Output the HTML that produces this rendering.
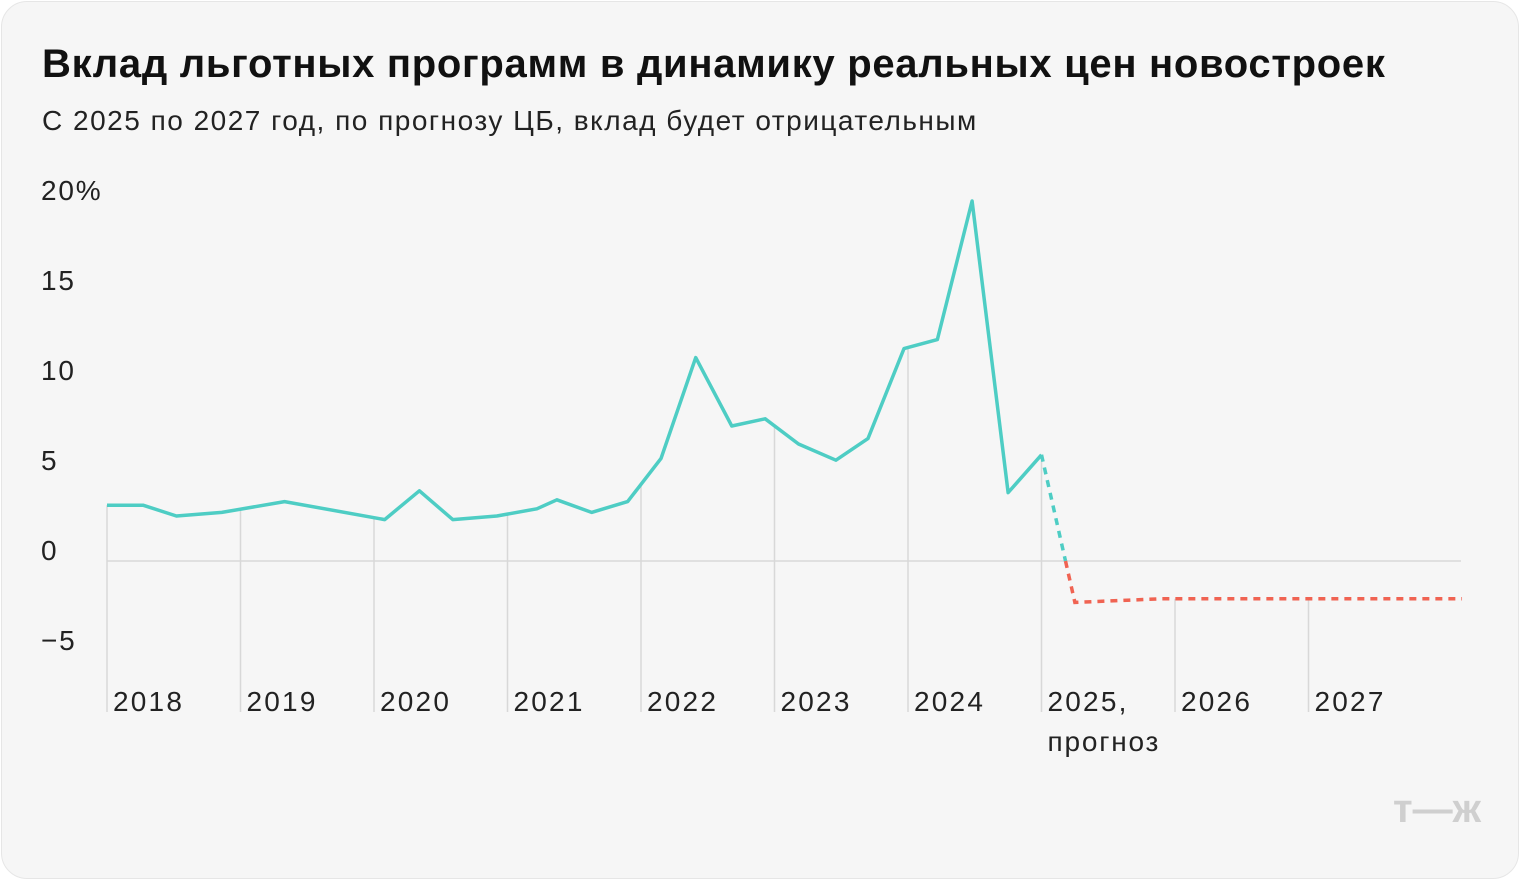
<!DOCTYPE html>
<html><head><meta charset="utf-8"><style>
html,body{margin:0;padding:0;background:#fff;}
.card{position:absolute;left:1px;top:1px;width:1516px;height:876px;background:#f6f6f6;border:1px solid #e6e6e6;border-radius:26px;overflow:hidden;font-family:"Liberation Sans",sans-serif;}
.title{position:absolute;left:40px;top:40px;font-size:40px;font-weight:bold;color:#111;letter-spacing:0.7px;}
.sub{position:absolute;left:40px;top:103px;font-size:28px;color:#222;letter-spacing:1.5px;}
svg{position:absolute;left:0;top:0;}
</style></head><body>
<div class="card">
<div class="title">Вклад льготных программ в динамику реальных цен новостроек</div>
<div class="sub">С 2025 по 2027 год, по прогнозу ЦБ, вклад будет отрицательным</div>
<svg id="chart" width="1518" height="878"></svg>
</div>
<script>
const yTicks=[20,15,10,5,0,-5];
const yTickLabels=["20%","15","10","5","0","−5"];
const years=[2018,2019,2020,2021,2022,2023,2024,2025,2026,2027];
const yearLabels=["2018","2019","2020","2021","2022","2023","2024","2025,","2026","2027"];
const histDates=[2018.0,2018.27,2018.52,2018.86,2019.33,2020.08,2020.34,2020.59,2020.92,2021.22,2021.37,2021.63,2021.9,2022.15,2022.41,2022.68,2022.93,2023.18,2023.46,2023.7,2023.97,2024.22,2024.48,2024.75,2025.0];
const histValues=[3.1,3.1,2.5,2.7,3.3,2.3,3.9,2.3,2.5,2.9,3.4,2.7,3.3,5.7,11.3,7.5,7.9,6.5,5.6,6.8,11.8,12.3,20.0,3.8,5.9];
const fcDates=[2025.0,2025.25,2025.9,2028.15];
const fcValues=[5.9,-2.3,-2.1,-2.1];

const svg=document.getElementById('chart');
const NS='http://www.w3.org/2000/svg';
const X=t=>105+(t-2018)*133.5;
const Y=v=>559-v*18;
const FONT='Liberation Sans, sans-serif';
function mk(tag,attrs){const e=document.createElementNS(NS,tag);for(const k in attrs)e.setAttribute(k,attrs[k]);svg.appendChild(e);return e;}
function valAt(t){
  const ds=histDates.concat(fcDates.slice(1)),vs=histValues.concat(fcValues.slice(1));
  for(let i=0;i<ds.length-1;i++) if(t>=ds[i]&&t<=ds[i+1]) return vs[i]+(vs[i+1]-vs[i])*(t-ds[i])/(ds[i+1]-ds[i]);
  return vs[vs.length-1];
}
const z=mk('line',{x1:X(2018),x2:1459,y1:Y(0),y2:Y(0),stroke:'#d8d8d8','stroke-width':1.5});


years.forEach((yr,i)=>{
  const x=X(yr);
  const v=valAt(yr);
  const g=mk('line',{x1:x,x2:x,y1:Y(v),y2:710,stroke:'#d8d8d8','stroke-width':1.5});
  
  
  const t=mk('text',{x:x+6,y:709,'font-size':28,'letter-spacing':2.2,fill:'#222','font-family':FONT});
  t.textContent=yearLabels[i];
  
  
});
const pt=mk('text',{x:X(2025)+6,y:749,'font-size':28,'letter-spacing':1.8,fill:'#222','font-family':FONT});
pt.textContent='прогноз';


yTicks.forEach((v,i)=>{
  const t=mk('text',{x:39,y:Y(v)-1,'font-size':28,'letter-spacing':1.8,fill:'#222','font-family':FONT});
  t.textContent=yTickLabels[i];
  
  
});
const hp=mk('polyline',{points:histDates.map((d,i)=>X(d)+','+Y(histValues[i])).join(' '),fill:'none',stroke:'#4ecdc4','stroke-width':3.5,'stroke-linejoin':'round'});


const t0=fcDates[0]+(fcDates[1]-fcDates[0])*fcValues[0]/(fcValues[0]-fcValues[1]);
const f1=mk('polyline',{points:X(fcDates[0])+','+Y(fcValues[0])+' '+X(t0)+','+Y(0),fill:'none',stroke:'#4ecdc4','stroke-width':3.5,'stroke-dasharray':'7 6'});


const pts=[X(t0)+','+Y(0)].concat(fcDates.slice(1).map((d,i)=>X(d)+','+Y(fcValues[i+1])));
const f2=mk('polyline',{points:pts.join(' '),fill:'none',stroke:'#f06352','stroke-width':3.5,'stroke-dasharray':'7 6'});


const lg=mk('text',{x:1479,y:820,'text-anchor':'end','font-size':40,'font-weight':'bold',fill:'#cfcfcf','font-family':FONT});
lg.textContent='т—ж';


</script>
</body></html>
